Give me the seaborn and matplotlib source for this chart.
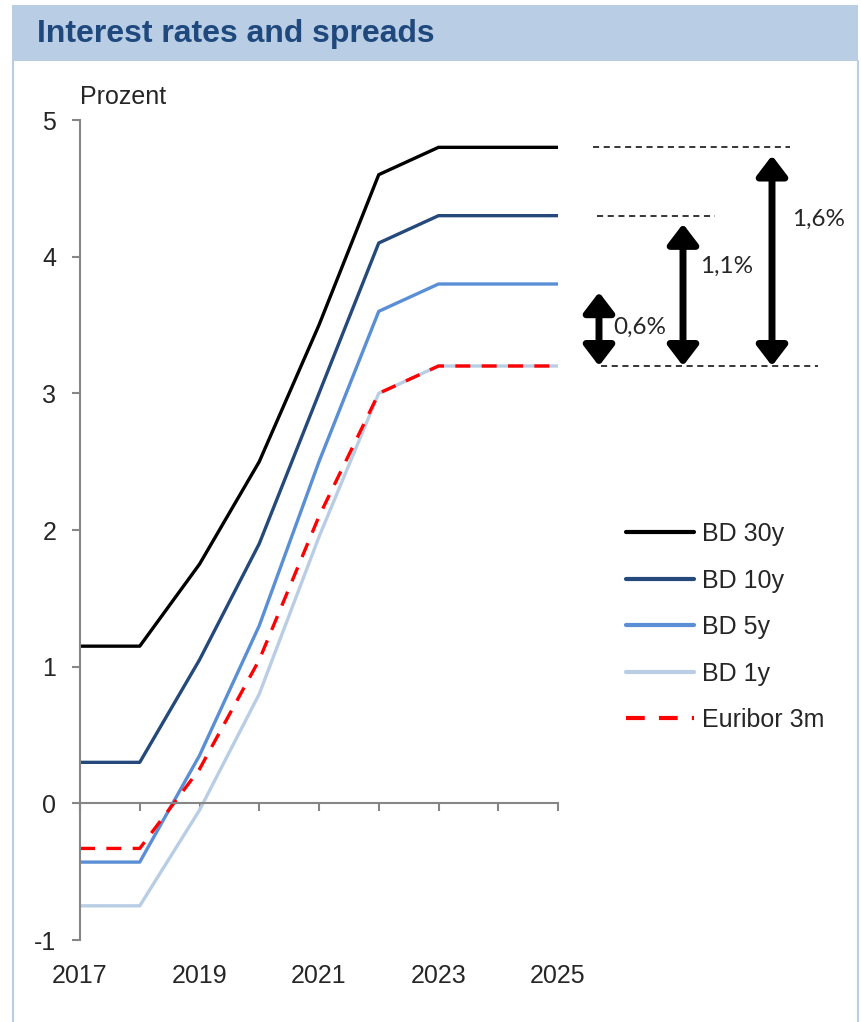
import matplotlib
matplotlib.use("Agg")
import matplotlib.pyplot as plt
import matplotlib.patches as mpatches
import matplotlib.lines as mlines
import seaborn as sns
import pandas as pd

years = [2017, 2018, 2019, 2020, 2021, 2022, 2023, 2024, 2025]
bd30 = [1.15, 1.15, 1.75, 2.5, 3.5, 4.6, 4.8, 4.8, 4.8]
bd10 = [0.3, 0.3, 1.05, 1.9, 3.0, 4.1, 4.3, 4.3, 4.3]
bd5 = [-0.43, -0.43, 0.35, 1.3, 2.5, 3.6, 3.8, 3.8, 3.8]
bd1 = [-0.75, -0.75, -0.05, 0.8, 1.95, 3.0, 3.2, 3.2, 3.2]
euribor = [-0.33, -0.33, 0.25, 1.05, 2.1, 3.0, 3.2, 3.2, 3.2]
series_names = ["BD 30y", "BD 10y", "BD 5y", "BD 1y", "Euribor 3m"]
xtick_labels = ["2017", "2019", "2021", "2023", "2025"]
spreads = [0.6, 1.1, 1.6]
spread_labels = ["0,6%", "1,1%", "1,6%"]
base_rate = 3.2

colors = ["#000000", "#24497a", "#5a8fd6", "#b9cde5", "#ff0000"]

sns.set_theme(style="white")
plt.rcParams["font.family"] = ["Liberation Sans", "DejaVu Sans"]
plt.rcParams["axes.unicode_minus"] = False

W, H = 862, 1022
fig = plt.figure(figsize=(W / 100, H / 100), dpi=100)

def fx(px):
    return px / W

def fy(py):
    return 1 - py / H

# frame and title bar
fig.patches.append(mpatches.Rectangle((fx(12), fy(61)), fx(858) - fx(12), fy(5) - fy(61),
                                      transform=fig.transFigure, facecolor="#b9cde5",
                                      edgecolor="none", zorder=0))
for xp in (13, 858):
    fig.lines.append(mlines.Line2D([fx(xp), fx(xp)], [fy(61), 0], transform=fig.transFigure,
                                   color="#b9cde5", lw=1.5))
fig.text(fx(37), fy(34), "Interest rates and spreads", fontsize=23, fontweight="bold",
         color="#1f497d", va="center", ha="left")

ax = fig.add_axes([fx(80), fy(940), fx(558) - fx(80), fy(120) - fy(940)])

data = {"BD 30y": bd30, "BD 10y": bd10, "BD 5y": bd5, "BD 1y": bd1, "Euribor 3m": euribor}
df = pd.DataFrame([(y, n, v) for n in series_names for y, v in zip(years, data[n])],
                  columns=["year", "series", "value"])

dash_pat = (4.5, 3.4)
palette = dict(zip(series_names, colors))
dashes = {n: "" for n in series_names}
dashes["Euribor 3m"] = dash_pat
sns.lineplot(data=df, x="year", y="value", hue="series", style="series",
             palette=palette, dashes=dashes, linewidth=2.4, ax=ax, legend=False)

ax.set_xlim(2017, 2025)
ax.set_ylim(-1, 5)
ax.set_xlabel("")
ax.set_ylabel("")

gray = "#868686"
for s in ("top", "right"):
    ax.spines[s].set_visible(False)
ax.spines["bottom"].set_position(("data", 0))
ax.spines["bottom"].set_color(gray)
ax.spines["left"].set_color(gray)
ax.spines["bottom"].set_linewidth(1.5)
ax.spines["left"].set_linewidth(1.5)
ax.set_xticks(years)
ax.set_xticklabels([])
ax.tick_params(axis="x", direction="out", length=6, width=1.5, color=gray, bottom=True)
ax.set_yticks(range(-1, 6))
ax.tick_params(axis="y", direction="out", length=6, width=1.5, color=gray, left=True,
               labelsize=18, pad=11)

sec = ax.secondary_xaxis(-0.005)
sec.set_xticks([int(t) for t in xtick_labels])
sec.set_xticklabels(xtick_labels)
sec.tick_params(length=0, labelsize=18, pad=14)
sec.spines["bottom"].set_visible(False)

fig.text(fx(80), fy(97), "Prozent", fontsize=18, ha="left", va="center")

# legend
handles = [mlines.Line2D([], [], color=c, lw=3, linestyle="--" if n == "Euribor 3m" else "-",
                         dashes=dash_pat if n == "Euribor 3m" else (None, None))
           for n, c in zip(series_names, colors)]
leg = fig.legend(handles, series_names, loc="upper left", bbox_to_anchor=(fx(626), fy(522)),
                 frameon=False, fontsize=18, handlelength=2.72, handletextpad=0.32,
                 labelspacing=0.90, borderpad=0, borderaxespad=0)

# spread annotations
def px2year(px):
    return 2017 + (px - 80) / (558 - 80) * 8

lab_font = ["Lato", "DejaVu Sans"]
dash_lines = [(593, 790, base_rate + spreads[2]), (597, 715, base_rate + spreads[1]),
              (601, 818, base_rate)]
for x0, x1, yv in dash_lines:
    ax.plot([px2year(x0), px2year(x1)], [yv, yv], color="black", lw=1.1, ls=(0, (4, 3)),
            clip_on=False)

arrow_x = [599, 683, 772]
label_pos = [(613, 3.48), (700, 3.93), (792, 4.27)]
for sp, ax_px, lab, (lx, ly) in zip(spreads, arrow_x, spread_labels, label_pos):
    ax.annotate("", xy=(px2year(ax_px), base_rate + sp - 0.06), xytext=(px2year(ax_px), base_rate),
                arrowprops=dict(arrowstyle="<|-|>,head_length=0.55,head_width=0.42",
                                color="black", lw=5, shrinkA=0, shrinkB=0, mutation_scale=22),
                annotation_clip=False)
    ax.text(px2year(lx), ly, lab, fontsize=17.5, ha="left", va="center", family=lab_font,
            clip_on=False)

fig.savefig("out.png", dpi=100)
